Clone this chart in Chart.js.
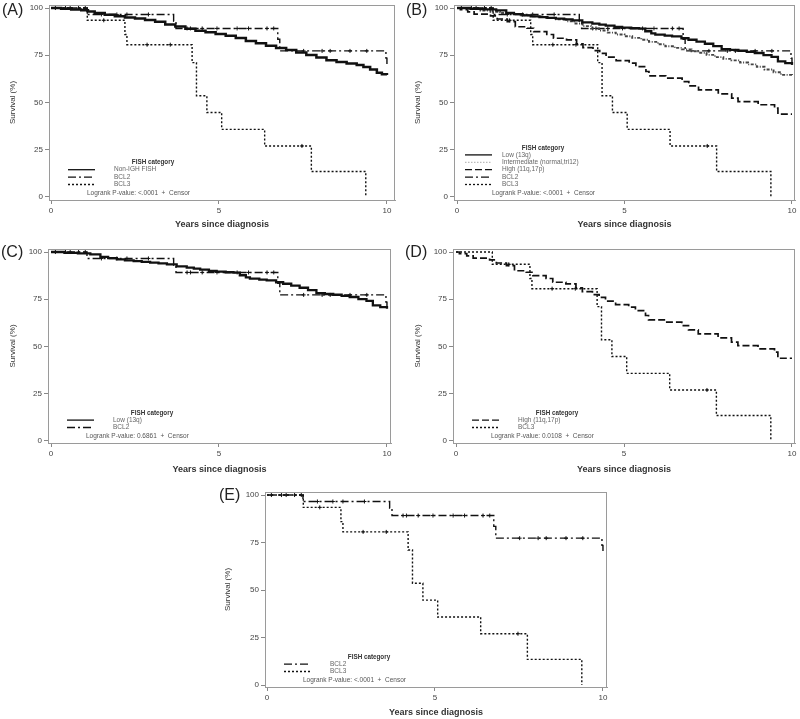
<!DOCTYPE html>
<html>
<head>
<meta charset="utf-8">
<script src="https://cdn.jsdelivr.net/npm/chart.js@4.4.0/dist/chart.umd.min.js"></script>
<style>
  body { margin: 0; background: #fff; width: 800px; height: 719px; position: relative; overflow: hidden; font-family: "Liberation Sans", Arial, sans-serif; }
  canvas { position: absolute; }
  .tag { position: absolute; font-size: 16px; line-height: 16px; color: #222; }
</style>
</head>
<body>
<canvas id="cA" width="400" height="232" style="left:0;top:0"></canvas>
<canvas id="cB" width="400" height="232" style="left:400px;top:0"></canvas>
<canvas id="cC" width="400" height="246" style="left:0;top:232px"></canvas>
<canvas id="cD" width="400" height="246" style="left:400px;top:232px"></canvas>
<canvas id="cE" width="412" height="247" style="left:200px;top:472px"></canvas>
<div class="tag" style="left:2px;top:2px">(A)</div>
<div class="tag" style="left:406px;top:2px">(B)</div>
<div class="tag" style="left:1px;top:244px">(C)</div>
<div class="tag" style="left:405px;top:244px">(D)</div>
<div class="tag" style="left:219px;top:487px">(E)</div>
<script>
// ---- data (years since diagnosis, survival %) ----
const xTicks = [0, 5, 10];
const yTicks = [0, 25, 50, 75, 100];

const nonIghFish = [[0,100],[0.3,99.6],[0.6,99.2],[0.9,98.8],[1.1,98.2],[1.3,97.4],[1.6,96.4],[1.9,95.7],[2.2,95],[2.5,94.4],
  [2.8,93.7],[3.1,92.8],[3.4,91.3],[3.7,90.2],[4.0,89],[4.3,88],[4.6,87.2],[4.9,86.2],[5.2,85.3],[5.5,84.2],[5.8,82.6],
  [6.1,81.4],[6.4,80],[6.7,78.8],[7.0,77.8],[7.3,76.4],[7.6,75.2],[7.9,73.8],[8.2,72.4],[8.5,71.4],[8.8,70.6],[9.1,69.8],
  [9.3,68.8],[9.5,67.4],[9.7,65.8],[9.85,65],[10,64.6]];
const low13q = [[0,100],[0.4,99.6],[0.8,99.3],[1.17,98.8],[1.47,97.4],[1.7,96.8],[1.96,96.1],[2.2,95.6],[2.46,95.2],[2.7,94.8],
  [2.95,94.4],[3.2,94],[3.45,93.5],[3.74,92.4],[4.04,91.7],[4.25,91.2],[4.44,90.7],[4.7,90],[4.93,89.6],[5.2,89.3],[5.43,89.1],
  [5.62,87.7],[5.8,86.6],[5.92,85.9],[6.2,85.4],[6.42,85],[6.7,84],[6.91,83.2],[7.15,82.2],[7.4,81.1],[7.65,79.8],[7.9,78.3],
  [8.15,77.8],[8.4,77.4],[8.65,76.8],[8.89,76.2],[9.15,75.1],[9.39,74.1],[9.58,71.8],[9.8,70.8],[10,70]];
const intermediate = [[0,100],[0.3,99.4],[0.7,98.6],[1.0,98],[1.28,97.4],[1.6,96.8],[1.9,96.2],[2.27,95.6],[2.6,94.8],[2.9,94],
  [3.26,93],[3.5,91.8],[3.75,90.4],[4.0,89.2],[4.24,88.1],[4.5,87],[4.74,86],[5.0,85.1],[5.23,84.2],[5.5,83.2],[5.73,82.1],
  [6.0,80.8],[6.22,79.8],[6.5,78.9],[6.71,78.1],[7.0,77.1],[7.2,76.3],[7.45,75.2],[7.7,74],[7.95,73.1],[8.19,72.3],[8.45,71.2],
  [8.69,70.2],[8.95,68.9],[9.18,67.5],[9.45,66],[9.67,64.6],[10,64]];
const high11q17p = [[0,100],[0.1,99.2],[0.32,98],[0.51,96.8],[1.0,95.8],[1.2,94.2],[1.5,92.8],[1.74,90.1],[2.09,89.3],[2.29,87.5],
  [2.68,86],[2.88,84],[3.27,83.1],[3.57,81],[3.76,79],[4.06,77.5],[4.26,76],[4.45,74],[4.75,72.2],[5.14,70.8],[5.34,69],
  [5.64,66.4],[5.73,64.1],[6.23,62.9],[6.72,61.1],[6.92,58.8],[7.21,56.7],[7.8,54.6],[8.2,52.3],[8.39,50.5],[8.99,48.8],
  [9.48,47],[9.58,43.8],[10,43.8]];
const bcl2 = [[0,100],[1.07,96.6],[3.65,93],[3.72,89.2],[6.75,83.5],[6.81,77.3],[9.97,73.5],[10,69.5]];
const bcl3 = [[0,100],[1.08,93.5],[2.2,86],[2.26,80.6],[4.2,71.1],[4.33,53.6],[4.64,44.7],[5.08,35.8],[6.36,27],[7.75,13.5],[9.37,0]];

const bcl2Censor = [[0.13,100],[0.43,100],[0.57,100],[0.82,100],[1.02,100],[1.5,96.6],[1.96,96.6],[2.26,96.6],[2.9,96.6],
  [4.05,89.2],[4.15,89.2],[4.5,89.2],[4.94,89.2],[5.54,89.2],[5.88,89.2],[6.43,89.2],[6.63,89.2],
  [7.52,77.3],[8.07,77.3],[8.31,77.3],[8.9,77.3],[9.4,77.3]];
const bcl3Censor = [[1.57,93.5],[2.86,80.6],[3.55,80.6],[7.47,27]];

const panelGroups = [
  ['Non-IGH FISH', 'BCL2', 'BCL3'],
  ['Low (13q)', 'Intermediate (normal,tri12)', 'High (11q,17p)', 'BCL2', 'BCL3'],
  ['Low (13q)', 'BCL2'],
  ['High (11q,17p)', 'BCL3'],
  ['BCL2', 'BCL3'],
];
const pValues = ['<.0001', '<.0001', '0.6861', '0.0108', '<.0001'];

const CURVES = {
  'Non-IGH FISH': nonIghFish, 'Low (13q)': low13q, 'Intermediate (normal,tri12)': intermediate,
  'High (11q,17p)': high11q17p, 'BCL2': bcl2, 'BCL3': bcl3,
};
const CENSOR = { 'BCL2': bcl2Censor, 'BCL3': bcl3Censor };

// ---- styles / layout ----
const FONT = '"Liberation Sans", Arial, sans-serif';
const STYLE = {
  'Non-IGH FISH':                { color: '#111', width: 2.5, dash: [] },
  'Low (13q)':                   { color: '#111', width: 2.3, dash: [] },
  'Intermediate (normal,tri12)': { color: '#444', width: 1.9, dash: [3, 1.5, 1, 1.5] },
  'High (11q,17p)':              { color: '#111', width: 1.7, dash: [7, 3] },
  'BCL2':                        { color: '#111', width: 1.4, dash: [8, 3, 2, 3] },
  'BCL3':                        { color: '#111', width: 1.4, dash: [2, 2] },
};
const LEG_STD  = { x0: 19, x1: 46, labelX: 65, titleX: 104, pX: 38 };
const LEG_WIDE = { x0: 11, x1: 38, labelX: 48, titleX: 89,  pX: 38 };
const LAYOUT = [
  { id: 'cA', padTop: 4,  padRight: 4, yw: 49, xh: 32, xmin: -0.06, xmax: 10.24, ymin: -1.6,  ymax: 101.6, ytp: 8,  xtp: 1.6, leg: LEG_STD },
  { id: 'cB', padTop: 4,  padRight: 3, yw: 54, xh: 32, xmin: -0.09, xmax: 10.09, ymin: -1.6,  ymax: 101.6, ytp: 13, xtp: 1.6, leg: LEG_WIDE },
  { id: 'cC', padTop: 17, padRight: 9, yw: 48, xh: 35, xmin: -0.09, xmax: 10.12, ymin: -1.06, ymax: 101.6, ytp: 8,  xtp: 2.6, leg: LEG_STD },
  { id: 'cD', padTop: 17, padRight: 3, yw: 53, xh: 35, xmin: -0.09, xmax: 10.09, ymin: -1.06, ymax: 101.6, ytp: 13, xtp: 2.6, leg: LEG_STD },
  { id: 'cE', padTop: 20, padRight: 5, yw: 65, xh: 32, xmin: -0.06, xmax: 10.12, ymin: -1.05, ymax: 101.6, ytp: 23, xtp: 0.6, leg: LEG_STD },
];

const toXY = pts => pts.map(([x, y]) => ({ x, y }));

// frame round the plot area + FISH legend inside it
const kmDecor = {
  id: 'kmDecor',
  afterDatasetsDraw(chart, args, o) {
    const { ctx, chartArea: a } = chart;
    ctx.save();
    ctx.strokeStyle = '#9a9a9a';
    ctx.lineWidth = 1;
    ctx.strokeRect(Math.round(a.left) + 0.5, Math.round(a.top) + 0.5, Math.round(a.width) - 1, Math.round(a.height));

    const lg = o.leg, names = o.names, n = names.length;
    const rowY = i => a.bottom - 15.5 - (n - 1 - i) * 7.4;
    ctx.fillStyle = '#333';
    ctx.font = 'bold 6.3px ' + FONT;
    ctx.textAlign = 'center';
    ctx.textBaseline = 'middle';
    ctx.fillText('FISH category', a.left + lg.titleX, rowY(0) - 7);
    ctx.textAlign = 'left';
    ctx.font = '6.5px ' + FONT;
    names.forEach((nm, i) => {
      const ds = chart.data.datasets.find(d => d.label === nm);
      const y = rowY(i);
      ctx.strokeStyle = nm.startsWith('Intermediate') ? '#bbb' : ds.borderColor;
      ctx.lineWidth = 1.3;
      ctx.setLineDash(nm.startsWith('Intermediate') ? [1.5, 1.5] : ds.borderDash);
      ctx.beginPath();
      ctx.moveTo(a.left + lg.x0, y);
      ctx.lineTo(a.left + lg.x1, y);
      ctx.stroke();
      ctx.setLineDash([]);
      ctx.fillStyle = '#666';
      ctx.fillText(nm, a.left + lg.labelX, y);
    });
    ctx.fillStyle = '#555';
    ctx.fillText('Logrank P-value: ' + o.p + '  +  Censor', a.left + lg.pX, a.bottom - 7);
    ctx.restore();
  },
};

LAYOUT.forEach((L, k) => {
  const names = panelGroups[k];
  const datasets = [];
  names.forEach(nm => {
    const st = STYLE[nm];
    datasets.push({
      label: nm, data: toXY(CURVES[nm]), showLine: true, stepped: 'before',
      borderColor: st.color, borderWidth: st.width, borderDash: st.dash, pointRadius: 0, fill: false,
    });
    if (CENSOR[nm]) datasets.push({
      label: nm + ' censor', data: toXY(CENSOR[nm]), showLine: false,
      pointStyle: 'cross', pointRadius: 2, borderColor: '#111', backgroundColor: '#111', borderWidth: 1,
    });
  });

  new Chart(document.getElementById(L.id), {
    type: 'scatter',
    data: { datasets },
    plugins: [kmDecor],
    options: {
      responsive: false, animation: false, events: [],
      layout: { padding: { left: 0, top: L.padTop, right: L.padRight, bottom: 0 } },
      plugins: {
        legend: { display: false }, tooltip: { enabled: false },
        kmDecor: { names, leg: L.leg, p: pValues[k] },
      },
      scales: {
        x: {
          type: 'linear', min: L.xmin, max: L.xmax,
          afterBuildTicks: s => { s.ticks = xTicks.map(v => ({ value: v })); },
          afterFit: s => { s.height = L.xh; s.paddingLeft = 0; s.paddingRight = 0; },
          grid: { drawOnChartArea: false, tickLength: 4, color: '#888' },
          border: { color: '#9a9a9a' },
          ticks: { color: '#444', padding: 2, maxRotation: 0, font: { size: 8, family: FONT } },
          title: { display: true, text: 'Years since diagnosis', color: '#333',
                   font: { size: 9, weight: 'bold', family: FONT }, padding: { top: 0, bottom: L.xtp } },
        },
        y: {
          type: 'linear', min: L.ymin, max: L.ymax,
          afterBuildTicks: s => { s.ticks = yTicks.map(v => ({ value: v })); },
          afterFit: s => { s.width = L.yw; s.paddingTop = 0; s.paddingBottom = 0; },
          grid: { drawOnChartArea: false, tickLength: 4, color: '#888' },
          border: { color: '#9a9a9a' },
          ticks: { color: '#444', padding: 2, font: { size: 8, family: FONT } },
          title: { display: true, text: 'Survival (%)', color: '#333',
                   font: { size: 8, family: FONT }, padding: { top: L.ytp, bottom: 0 } },
        },
      },
    },
  });
});
</script>
</body>
</html>
